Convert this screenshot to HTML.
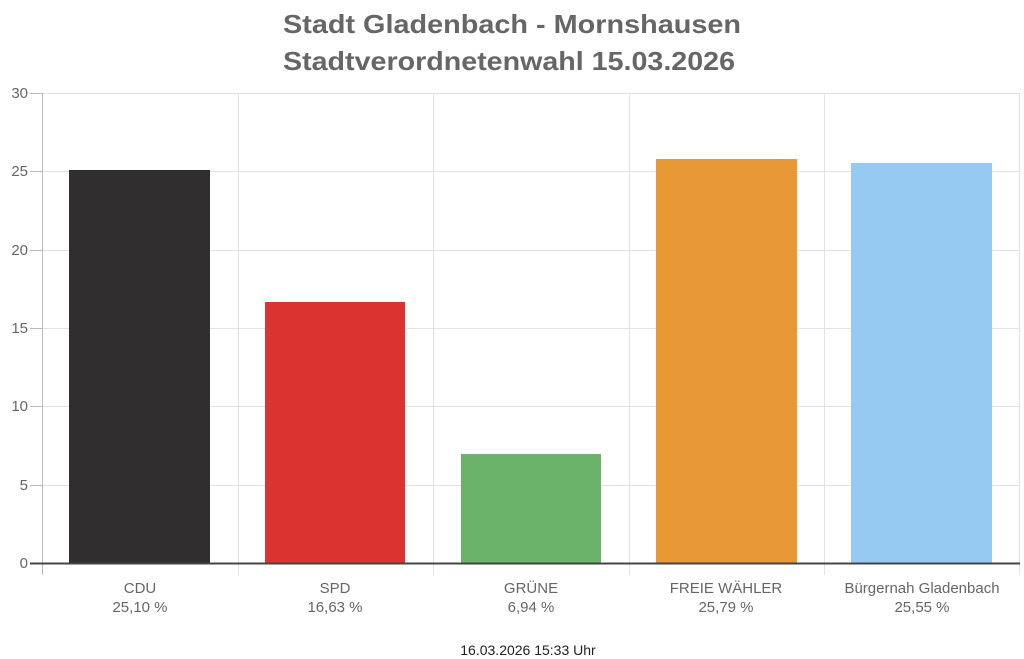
<!DOCTYPE html>
<html><head><meta charset="utf-8"><style>html,body{margin:0;padding:0;background:#fff;}svg{display:block}</style></head>
<body>
<svg width="1024" height="659" viewBox="0 0 1024 659" font-family="Liberation Sans, sans-serif">
<rect width="1024" height="659" fill="#fff"/>
<text x="512" y="33" text-anchor="middle" font-size="26" font-weight="bold" fill="#666" textLength="458" lengthAdjust="spacingAndGlyphs">Stadt Gladenbach - Mornshausen</text>
<text x="509" y="70" text-anchor="middle" font-size="26" font-weight="bold" fill="#666" textLength="452" lengthAdjust="spacingAndGlyphs">Stadtverordnetenwahl 15.03.2026</text>
<g stroke="#e2e2e2" stroke-width="1">
<line x1="42" y1="93.5" x2="1020" y2="93.5"/>
<line x1="42" y1="171.5" x2="1020" y2="171.5"/>
<line x1="42" y1="250.5" x2="1020" y2="250.5"/>
<line x1="42" y1="328.5" x2="1020" y2="328.5"/>
<line x1="42" y1="406.5" x2="1020" y2="406.5"/>
<line x1="42" y1="485.5" x2="1020" y2="485.5"/>
<line x1="238.5" y1="93" x2="238.5" y2="575"/>
<line x1="433.5" y1="93" x2="433.5" y2="575"/>
<line x1="629.5" y1="93" x2="629.5" y2="575"/>
<line x1="824.5" y1="93" x2="824.5" y2="575"/>
<line x1="1019.5" y1="93" x2="1019.5" y2="575"/>
</g>
<g stroke="#bbb"><line x1="42.5" y1="93" x2="42.5" y2="575"/>
<line x1="30" y1="93.5" x2="42" y2="93.5"/><line x1="30" y1="171.5" x2="42" y2="171.5"/><line x1="30" y1="250.5" x2="42" y2="250.5"/><line x1="30" y1="328.5" x2="42" y2="328.5"/><line x1="30" y1="406.5" x2="42" y2="406.5"/><line x1="30" y1="485.5" x2="42" y2="485.5"/></g>
<g font-size="15" fill="#666" text-anchor="end">
<text x="28" y="98">30</text><text x="28" y="176">25</text><text x="28" y="255">20</text><text x="28" y="333">15</text><text x="28" y="411">10</text><text x="28" y="490">5</text><text x="28" y="568">0</text>
</g>
<rect x="69" y="170" width="141" height="393" fill="#302e2f"/>
<rect x="265" y="302" width="140" height="261" fill="#db3330"/>
<rect x="461" y="454" width="140" height="109" fill="#6bb36a"/>
<rect x="656" y="159" width="141" height="404" fill="#e99836"/>
<rect x="851" y="163" width="141" height="400" fill="#97caf3"/>
<line x1="30" y1="563.5" x2="1020" y2="563.5" stroke="#444" stroke-width="2"/>
<g font-size="15" fill="#666" text-anchor="middle">
<text x="140" y="593">CDU</text><text x="140" y="612">25,10 %</text>
<text x="335" y="593">SPD</text><text x="335" y="612">16,63 %</text>
<text x="531" y="593">GRÜNE</text><text x="531" y="612">6,94 %</text>
<text x="726" y="593">FREIE WÄHLER</text><text x="726" y="612">25,79 %</text>
<text x="922" y="593">Bürgernah Gladenbach</text><text x="922" y="612">25,55 %</text>
</g>
<text x="528" y="655" text-anchor="middle" font-size="14" fill="#222">16.03.2026 15:33 Uhr</text>
</svg>
</body></html>
